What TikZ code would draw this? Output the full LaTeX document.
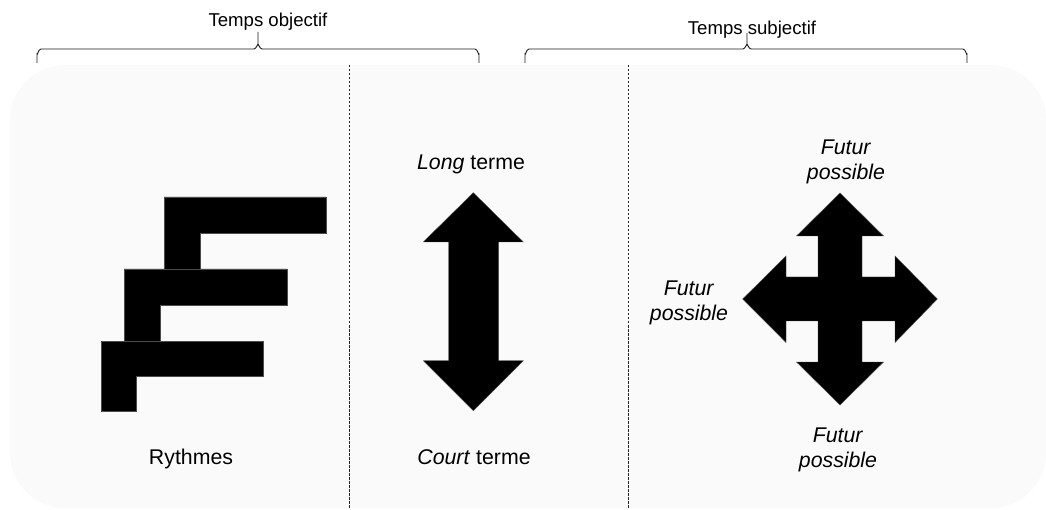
\documentclass[tikz,border=0pt]{standalone}
\usepackage{fontspec}
\setmainfont{Liberation Sans}
\begin{document}
\begin{tikzpicture}[x=1pt,y=-1pt,
  lbl/.style={inner sep=0pt,font=\fontsize{21.3}{24.5}\selectfont},
  toplbl/.style={inner sep=0pt,font=\fontsize{18.6}{21}\selectfont},
  solidshape/.style={fill=black,draw=black!70,line width=0.4pt,line join=miter},
  sep/.style={draw=black!85,line width=0.7pt,dash pattern=on 2.5pt off 1.5pt},
  bracestyle/.style={draw=black!90,line width=0.9pt}]
\useasboundingbox (0,0) rectangle (1046,510);
% background panel
\fill[fill={rgb,255:red,250;green,250;blue,250},rounded corners=55pt] (10,65) rectangle (1046,508);
% separators
\coordinate (s1t) at (349,65); \coordinate (s1b) at (349,508);
\coordinate (s2t) at (628,65); \coordinate (s2b) at (628,508);
\draw[sep] (s1t) -- (s1b);
\draw[sep] (s2t) -- (s2b);
% braces
\draw[bracestyle] (37,63) -- (37,54) to[out=-90,in=180] (41,49) -- (254,49) to[out=0,in=90] (258,45) -- (258,32);
\draw[bracestyle] (479,63) -- (479,54) to[out=-90,in=0] (475,49) -- (262,49) to[out=180,in=90] (258,45);
\draw[bracestyle] (525,63) -- (525,54) to[out=-90,in=180] (529,49) -- (743,49) to[out=0,in=90] (747,45) -- (747,33);
\draw[bracestyle] (967,63) -- (967,54) to[out=-90,in=0] (963,49) -- (751,49) to[out=180,in=90] (747,45);
\node[toplbl,anchor=base] (tobj) at (268,27) {Temps objectif};
\node[toplbl,anchor=base] (tsub) at (752,35) {Temps subjectif};
% rhythm staircase
\path[solidshape] (164,197) -- (326,197) -- (326,233) -- (200,233) -- (200,269) -- (164,269) -- cycle;
\path[solidshape] (124,269) -- (287,269) -- (287,305) -- (160,305) -- (160,341) -- (124,341) -- cycle;
\path[solidshape] (101,341) -- (263,341) -- (263,376) -- (136,376) -- (136,411) -- (101,411) -- cycle;
\node[lbl,anchor=base] (ryth) at (191,464) {Rythmes};
% vertical double arrow
\path[solidshape] (473.3,192.7) -- (523.3,242) -- (498.7,242) -- (498.7,360.7) -- (523.3,360.7) -- (473.3,410.7) -- (423.3,360.7) -- (448.7,360.7) -- (448.7,242) -- (423.3,242) -- cycle;
\node[lbl,anchor=base] (long) at (471,170) {\textit{Long} terme};
\node[lbl,anchor=base] (court) at (474,464) {\textit{Court} terme};
% four-way arrow
\path[solidshape] (840,193) -- (883.5,236) -- (862,236) -- (862,277) -- (895,277) -- (895,256) -- (937.3,299) -- (895,342.5) -- (895,321) -- (862,321) -- (862,362) -- (883.5,362) -- (840,405) -- (796.5,362) -- (818,362) -- (818,321) -- (786,321) -- (786,342.5) -- (742.7,299) -- (786,256) -- (786,277) -- (818,277) -- (818,236) -- (796.5,236) -- cycle;
\node[lbl,align=center] (futtop) at (846,162) {\textit{Futur}\\\textit{possible}};
\node[lbl,align=center] (futleft) at (689,303) {\textit{Futur}\\\textit{possible}};
\node[lbl,align=center] (futbot) at (838,450) {\textit{Futur}\\\textit{possible}};
\end{tikzpicture}
\end{document}
